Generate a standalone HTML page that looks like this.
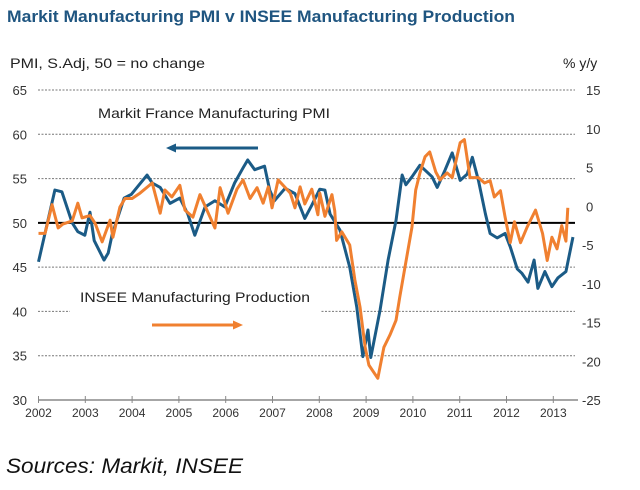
<!DOCTYPE html>
<html><head><meta charset="utf-8"><style>
body{margin:0;background:#fff;width:640px;height:485px;overflow:hidden;font-family:"Liberation Sans",Arial,sans-serif}
svg text{font-family:"Liberation Sans",Arial,sans-serif}
</style></head><body>
<svg id="c" width="640" height="485">
<text x="7" y="22" font-size="17" font-weight="bold" fill="#1f5580" textLength="508" lengthAdjust="spacingAndGlyphs">Markit Manufacturing PMI v INSEE Manufacturing Production</text>
<text x="10" y="68" font-size="14" fill="#222" textLength="195" lengthAdjust="spacingAndGlyphs">PMI, S.Adj, 50 = no change</text>
<text x="563" y="68" font-size="14" fill="#222">% y/y</text>
<text x="6" y="473" font-size="21" font-style="italic" fill="#111" textLength="237" lengthAdjust="spacingAndGlyphs">Sources: Markit, INSEE</text>
<g id="grid"></g><g id="axes"></g><g id="series"></g>
<rect x="70" y="282" width="250" height="50" fill="#fff"/>
<text x="98" y="118" font-size="14" fill="#222" textLength="232" lengthAdjust="spacingAndGlyphs">Markit France Manufacturing  PMI</text>
<line x1="258" y1="148" x2="172" y2="148" stroke="#1b5b86" stroke-width="3"/>
<polygon points="166,148 176,143.5 176,152.5" fill="#1b5b86"/>
<text x="80" y="302" font-size="14" fill="#222" textLength="230" lengthAdjust="spacingAndGlyphs">INSEE  Manufacturing  Production</text>
<line x1="152" y1="325" x2="236" y2="325" stroke="#f08030" stroke-width="3"/>
<polygon points="243,325 233,320.5 233,329.5" fill="#f08030"/>
</svg>
<script>
const years=[2002,2003,2004,2005,2006,2007,2008,2009,2010,2011,2012,2013];
const leftTicks=[65,60,55,50,45,40,35,30];
const rightTicks=[15,10,5,0,-5,-10,-15,-20,-25];
const pmiDates=[2002.0,2002.35,2002.5,2002.72,2002.84,2002.99,2003.1,2003.19,2003.4,2003.49,2003.57,2003.83,2003.98,2004.32,2004.43,2004.6,2004.81,2005.02,2005.19,2005.34,2005.56,2005.77,2005.98,2006.19,2006.37,2006.47,2006.62,2006.83,2006.94,2007.04,2007.27,2007.48,2007.69,2007.84,2008.01,2008.12,2008.23,2008.44,2008.55,2008.65,2008.8,2008.93,2009.04,2009.1,2009.3,2009.47,2009.64,2009.77,2009.85,2009.98,2010.15,2010.41,2010.52,2010.69,2010.84,2011.01,2011.16,2011.27,2011.4,2011.55,2011.65,2011.8,2011.97,2012.08,2012.23,2012.33,2012.46,2012.59,2012.67,2012.82,2012.97,2013.1,2013.27,2013.42];
const pmiValues=[45.6,53.7,53.5,50,49,48.6,51.2,48,45.8,46.6,48.6,52.8,53.2,55.4,54.5,54,52.2,52.8,51,48.6,51.8,52.5,51.8,54.5,56.2,57.1,56,56.4,53.7,52.5,53.9,53.3,50.5,52,53.8,53.7,51,49.2,47,45,40.5,34.9,37.9,34.8,40.2,45.8,50.3,55.4,54.3,55.2,56.5,55.2,54,56,57.9,54.8,55.5,57.4,54.8,51,48.8,48.3,48.8,47.3,44.8,44.3,43.3,45.8,42.6,44.5,42.8,43.8,44.5,48.4];
const inseeDates=[2002.0,2002.14,2002.29,2002.42,2002.52,2002.72,2002.84,2002.93,2003.1,2003.21,2003.36,2003.53,2003.59,2003.74,2003.85,2004.0,2004.17,2004.43,2004.6,2004.7,2004.85,2005.02,2005.13,2005.3,2005.45,2005.77,2005.88,2006.05,2006.24,2006.37,2006.52,2006.67,2006.8,2006.91,2006.99,2007.12,2007.38,2007.48,2007.59,2007.69,2007.84,2007.97,2008.01,2008.12,2008.27,2008.33,2008.37,2008.48,2008.65,2008.76,2008.87,2008.98,2009.06,2009.25,2009.38,2009.51,2009.64,2009.72,2009.87,2009.98,2010.06,2010.15,2010.26,2010.36,2010.49,2010.58,2010.73,2010.84,2011.01,2011.1,2011.22,2011.4,2011.53,2011.65,2011.74,2011.87,2011.97,2012.08,2012.17,2012.3,2012.44,2012.62,2012.77,2012.87,2012.97,2013.08,2013.18,2013.27,2013.31];
const inseeValues=[-3.5,-3.5,0.2,-2.8,-2.3,-1.9,0.4,-1.5,-1.2,-2.2,-4.6,-1.8,-4,-0.1,1,1,1.7,3,-0.9,2.1,1.2,2.7,-0.5,-1.4,1.5,-2.8,2.4,-0.9,2.2,3.4,1,2.4,0.4,2.5,-0.2,3.4,1.7,-0.2,2.5,0.3,2.2,-1.1,1.7,-1.3,1.5,-0.6,-4.4,-3.3,-5,-9.5,-13,-18.2,-20.5,-22.2,-18.2,-16.6,-14.7,-11.7,-6.5,-2.7,2.1,4.3,6.4,7,4.4,3.4,4.3,3.7,8.2,8.6,3.7,3.7,3,3.3,1.2,2,-1.4,-4.7,-2,-4.7,-2.7,-0.5,-3.5,-7,-4,-5.5,-2.5,-4.5,-0.2];
const NS='http://www.w3.org/2000/svg';
const X0=38.5,YW=46.8,T=90,B=400;
const xS=d=>X0+(d-2002)*YW;
const yL=v=>T+(65-v)*(B-T)/35;
const yR=v=>T+(15-v)*(B-T)/40;
function mk(p,tag,a){const e=document.createElementNS(NS,tag);for(const k in a)e.setAttribute(k,a[k]);document.getElementById(p).appendChild(e);return e;}
leftTicks.forEach(v=>{
 if(v>30&&v!==50){const g=mk('grid','line',{x1:38,x2:575,y1:yL(v),y2:yL(v),stroke:'#777','stroke-width':1,'stroke-dasharray':'2,1.5'});
 
 }
 const t=mk('axes','text',{x:27,y:yL(v)+5,'text-anchor':'end','font-size':13,fill:'#333'});t.textContent=v;
 
 
});
rightTicks.forEach(v=>{const t=mk('axes','text',{x:v<0?582:586,y:yR(v)+5,'font-size':13,fill:'#333'});t.textContent=v;
 
 });
const ax=mk('axes','line',{x1:38,x2:578,y1:B,y2:B,stroke:'#888','stroke-width':1.5});


years.forEach(y=>{const x=xS(y);
 const tk=mk('axes','line',{x1:x,x2:x,y1:B-4,y2:B+3,stroke:'#888','stroke-width':1});
 
 
 const t=mk('axes','text',{x:x,y:B+17,'text-anchor':'middle','font-size':12,fill:'#333'});t.textContent=y;
 
 });
const zl=mk('series','line',{x1:38,x2:575,y1:yL(50),y2:yL(50),stroke:'#000','stroke-width':2});


const pb=mk('series','polyline',{points:pmiDates.map((d,i)=>xS(d)+','+yL(pmiValues[i])).join(' '),fill:'none',stroke:'#1b5b86','stroke-width':3,'stroke-linejoin':'round'});


const po=mk('series','polyline',{points:inseeDates.map((d,i)=>xS(d)+','+yR(inseeValues[i])).join(' '),fill:'none',stroke:'#f08030','stroke-width':3,'stroke-linejoin':'round'});


</script>
</body></html>
